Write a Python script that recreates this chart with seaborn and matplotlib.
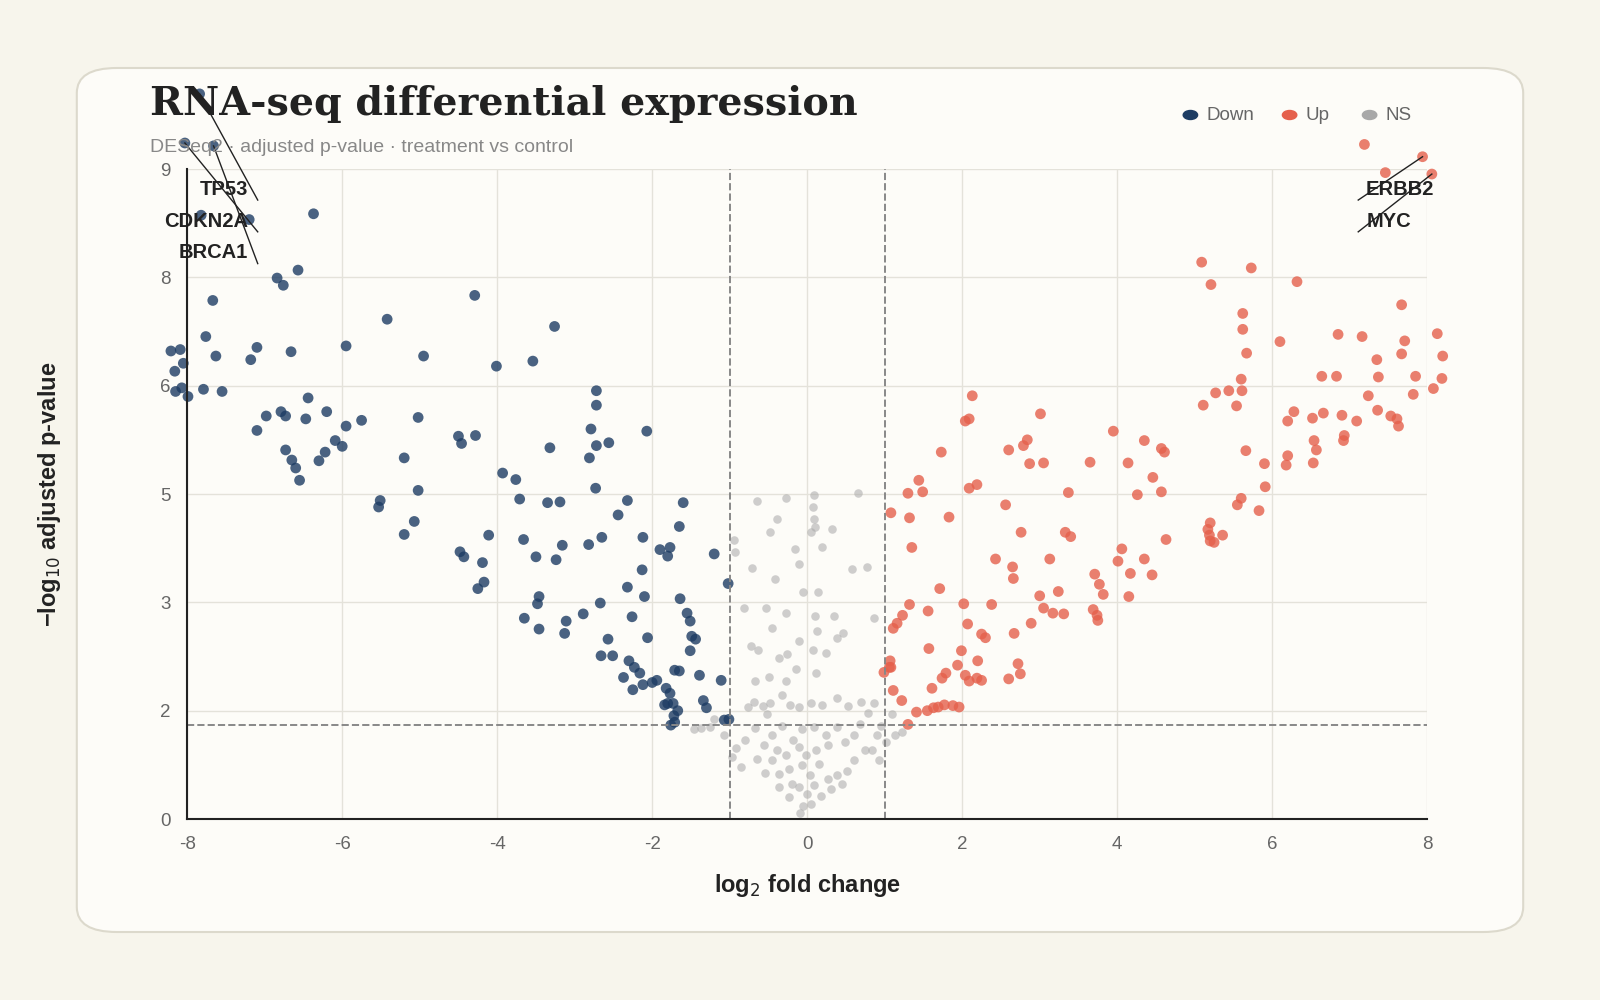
import numpy as np
import pandas as pd
import seaborn as sns
from matplotlib import pyplot as plt
from matplotlib.patches import FancyBboxPatch
from matplotlib.ticker import FuncFormatter

# Points (log2 fold change, -log10 adjusted p)
down_x = [-8.03, -7.84, -7.66, -7.2, -7.82, -6.37, -6.84, -6.76, -6.57, -7.67, -8.21, -8.09, -8.05, -7.76,
          -7.63, -8.16, -8.07, -8.15, -7.99, -7.79, -7.55, -7.1, -7.18, -6.66, -5.95, -5.42, -4.95, -4.29,
          -4.01, -3.54, -3.26, -6.79, -6.98, -6.73, -7.1, -6.44, -6.47, -6.2, -5.75, -5.95, -6.09, -6.0,
          -6.22, -6.3, -6.73, -6.65, -6.6, -6.55, -5.02, -5.2, -5.02, -5.07, -5.51, -5.53, -5.2, -4.5,
          -4.46, -4.28, -3.93, -3.76, -3.71, -4.11, -4.48, -4.43, -4.19, -4.17, -4.25, -3.66, -3.5, -3.32,
          -3.35, -3.19, -3.16, -3.24, -2.79, -2.72, -2.72, -2.72, -2.81, -2.56, -2.73, -2.07, -2.32, -2.44,
          -2.65, -2.82, -3.46, -3.48, -3.65, -3.46, -3.11, -3.13, -2.89, -2.67, -2.32, -2.26, -2.57, -2.66,
          -2.51, -2.06, -2.1, -2.13, -2.12, -1.9, -1.8, -1.77, -1.65, -1.6, -1.64, -1.55, -1.51, -1.49,
          -1.51, -1.44, -1.65, -1.71, -1.82, -1.77, -1.73, -1.72, -1.67, -1.94, -2.0, -2.23, -2.16, -2.3,
          -2.37, -2.25, -2.12, -1.84, -1.8, -1.76, -1.71, -1.34, -1.3, -1.11, -1.2, -1.02, -1.07, -1.01, -1.39]
down_y = [9.36, 10.04, 9.32, 8.3, 8.36, 8.38, 7.49, 7.39, 7.6, 7.18, 6.48, 6.5, 6.31, 6.68,
          6.41, 6.2, 5.97, 5.92, 5.85, 5.95, 5.92, 6.53, 6.36, 6.47, 6.55, 6.92, 6.41, 7.25,
          6.27, 6.34, 6.82, 5.64, 5.58, 5.58, 5.38, 5.83, 5.54, 5.64, 5.52, 5.44, 5.24, 5.16,
          5.08, 4.96, 5.11, 4.97, 4.86, 4.69, 5.56, 5.0, 4.55, 4.12, 4.41, 4.32, 3.94, 5.3,
          5.2, 5.31, 4.79, 4.7, 4.43, 3.93, 3.7, 3.63, 3.55, 3.28, 3.19, 3.87, 3.63, 5.14,
          4.38, 4.39, 3.79, 3.59, 5.4, 5.17, 5.93, 5.73, 5.0, 5.21, 4.58, 5.37, 4.41, 4.21,
          3.9, 3.8, 3.08, 2.98, 2.78, 2.63, 2.74, 2.57, 2.84, 2.99, 3.21, 2.8, 2.49, 2.26,
          2.26, 2.51, 3.08, 3.45, 3.9, 3.73, 3.64, 3.76, 4.05, 4.38, 3.05, 2.85, 2.74, 2.53,
          2.33, 2.49, 2.05, 2.06, 1.81, 1.74, 1.6, 1.43, 1.5, 1.92, 1.89, 2.1, 2.02, 2.19,
          1.96, 1.79, 1.86, 1.58, 1.6, 1.3, 1.34, 1.64, 1.54, 1.92, 3.67, 3.26, 1.37, 1.38, 1.99]

up_x = [7.19, 7.94, 7.46, 8.06, 5.09, 5.21, 5.73, 6.32, 5.62, 5.62, 5.67, 6.1, 6.85, 7.16, 7.67, 8.13,
        8.2, 7.71, 7.35, 7.67, 5.6, 5.61, 5.44, 5.27, 5.11, 5.54, 6.64, 6.83, 7.37, 7.85, 7.24, 7.82,
        8.08, 8.19, 6.28, 6.66, 6.9, 7.36, 7.53, 7.61, 7.63, 7.09, 6.2, 6.52, 6.54, 6.57, 6.53, 6.2,
        6.18, 6.93, 6.92, 5.66, 5.9, 5.91, 5.6, 5.55, 5.83, 5.2, 5.17, 5.19, 5.25, 5.36, 5.2,
        2.13, 2.04, 2.09, 3.01, 3.95, 4.35, 4.57, 4.61, 2.84, 2.79, 2.6, 2.87, 3.05, 3.65, 4.14, 4.46,
        4.26, 4.57, 3.37, 2.19, 1.73, 1.44, 1.49, 1.3, 1.08, 1.32, 1.35, 1.83, 2.09, 2.56, 2.76, 3.33,
        3.4, 3.13, 2.43, 2.65, 2.66, 4.63, 4.06, 4.01, 4.35, 4.45, 4.17, 3.71, 3.77, 3.82, 4.15, 3.24,
        3.0, 3.05, 3.17, 3.31, 3.69, 3.74, 3.75, 2.89, 2.67, 1.71, 1.32, 1.56, 2.02, 2.38, 2.07, 2.25,
        2.3, 1.16, 1.23, 1.11, 1.57, 1.99, 2.2, 2.72, 2.75, 2.6, 1.07, 1.06, 0.99, 1.08, 1.11, 1.22,
        1.61, 1.79, 1.74, 1.94, 2.04, 2.09, 2.19, 2.25, 1.41, 1.55, 1.63, 1.69, 1.77, 1.88, 1.96, 1.3]
up_y = [9.34, 9.17, 8.95, 8.93, 7.71, 7.4, 7.63, 7.44, 7.0, 6.78, 6.45, 6.61, 6.71, 6.68, 7.12, 6.72,
        6.41, 6.62, 6.36, 6.44, 6.09, 5.93, 5.93, 5.9, 5.73, 5.72, 6.13, 6.13, 6.12, 6.13, 5.86, 5.88,
        5.96, 6.1, 5.64, 5.62, 5.59, 5.66, 5.58, 5.54, 5.44, 5.51, 5.51, 5.55, 5.24, 5.11, 4.93, 5.03,
        4.9, 5.31, 5.24, 5.1, 4.92, 4.6, 4.44, 4.35, 4.27, 4.1, 4.01, 3.93, 3.83, 3.93, 3.85,
        5.86, 5.51, 5.54, 5.61, 5.37, 5.24, 5.13, 5.08, 5.25, 5.17, 5.11, 4.92, 4.93, 4.94, 4.93, 4.73,
        4.49, 4.53, 4.52, 4.63, 5.08, 4.69, 4.53, 4.51, 4.24, 4.17, 3.76, 4.18, 4.58, 4.35, 3.97, 3.97,
        3.91, 3.6, 3.6, 3.49, 3.33, 3.87, 3.74, 3.57, 3.6, 3.38, 3.4, 3.39, 3.25, 3.11, 3.08, 3.15,
        3.09, 2.92, 2.85, 2.84, 2.9, 2.82, 2.75, 2.71, 2.57, 3.19, 2.97, 2.88, 2.98, 2.97, 2.7, 2.56,
        2.51, 2.71, 2.82, 2.64, 2.36, 2.33, 2.19, 2.15, 2.01, 1.94, 2.19, 2.1, 2.03, 2.1, 1.78, 1.64,
        1.81, 2.02, 1.95, 2.13, 1.99, 1.91, 1.95, 1.92, 1.48, 1.5, 1.54, 1.55, 1.58, 1.57, 1.55, 1.31]

ns_x = [-0.65, -0.28, 0.09, 0.07, -0.39, 0.09, 0.05, 0.32, 0.65, -0.94, -0.93, -0.71, -0.48, 0.1, 0.58,
        -0.41, -0.16, -0.11, -0.06, 0.14, -0.82, -0.53, -0.28, 0.1, 0.35, 0.46, 0.39, 0.13, 0.86, -0.11,
        -0.73, -0.63, -0.36, -0.26, 0.07, 0.24, 0.11, -0.15, -0.28, -0.49, -0.68, -0.69, -0.77, -0.57,
        -0.48, -0.32, -0.22, -0.1, 0.05, 0.19, 0.38, 0.52, 0.7, 0.86, 0.78, 0.95, 0.9, 1.02, 0.84, 0.93,
        0.74, 0.61, 0.49, 0.38, 0.24, 0.09, -0.07, -0.18, -0.32, -0.45, -0.56, -0.68, -0.8, -0.92, -0.97,
        -0.85, -1.07, -1.26, -1.37, -1.46, -1.2, -0.65, -0.45, -0.54, -0.36, -0.24, -0.07, 0.03, 0.15,
        0.27, 0.39, 0.51, 0.61, -0.1, 0.0, 0.09, 0.18, -0.23, -0.05, -0.09, 0.05, -0.2, 0.31, 0.45, -0.36,
        1.13, 1.22, 1.09, 0.11, -0.02, -0.11, -0.28, 0.27, -0.39, -0.52, 0.68, -0.45, 0.19, 0.77]
ns_y = [4.41, 4.44, 4.49, 4.32, 4.15, 4.15, 3.98, 4.01, 4.52, 3.86, 3.7, 3.47, 3.98, 4.05, 3.46,
        3.32, 3.74, 3.53, 3.15, 3.14, 2.92, 2.92, 2.85, 2.81, 2.81, 2.58, 2.5, 2.61, 2.78, 2.46,
        2.39, 2.34, 2.23, 2.29, 2.34, 2.3, 2.02, 2.08, 1.91, 1.96, 1.91, 1.62, 1.55, 1.57,
        1.61, 1.72, 1.58, 1.55, 1.61, 1.58, 1.67, 1.57, 1.62, 1.61, 1.47, 1.29, 1.17, 1.06, 0.96, 0.82,
        0.95, 1.17, 1.06, 1.27, 1.17, 1.27, 1.24, 1.1, 1.29, 1.16, 1.03, 1.26, 1.09, 0.99, 0.86,
        0.72, 1.16, 1.27, 1.26, 1.24, 1.38, 0.83, 0.82, 0.64, 0.62, 0.69, 0.75, 0.61, 0.76,
        0.56, 0.61, 0.66, 0.82, 0.44, 0.35, 0.47, 0.32, 0.31, 0.18, 0.08, 0.21, 0.49, 0.42, 0.49, 0.44,
        1.17, 1.21, 1.45, 0.96, 0.89, 1.0, 0.89, 1.03, 0.96, 1.45, 1.31, 2.64, 3.77, 3.49]

# labelled genes: text, point, text position
genes = ['TP53', 'CDKN2A', 'BRCA1', 'ERBB2', 'MYC']
gene_x = [-7.84, -8.03, -7.66, 7.94, 8.06]
gene_y = [10.04, 9.36, 9.32, 9.17, 8.93]
label_x = [-7.52, -7.75, -7.66, 7.65, 7.5]
label_y = [8.72, 8.28, 7.84, 8.72, 8.28]

fc_cut = 1.0
p_cut = 1.3

df = pd.concat([
    pd.DataFrame({'lfc': down_x, 'p': down_y, 'grp': 'Down'}),
    pd.DataFrame({'lfc': up_x, 'p': up_y, 'grp': 'Up'}),
])
ns = pd.DataFrame({'lfc': ns_x, 'p': ns_y})

plt.rcParams['font.family'] = ['Liberation Sans', 'DejaVu Sans']
plt.rcParams['axes.unicode_minus'] = False

bg = '#f7f5ec'
fig = plt.figure(figsize=(16, 10), dpi=100, facecolor=bg)
card = FancyBboxPatch((0.048, 0.068), 0.904, 0.864, boxstyle='round,pad=0,rounding_size=0.025',
                      transform=fig.transFigure, fc='#fdfcf8', ec='#dcd9cc', lw=1.5, zorder=-10)
fig.patches.append(card)
ax = fig.add_axes([0.117, 0.181, 0.775, 0.65])
ax.set_facecolor('#fdfcf8')

sns.scatterplot(data=ns, x='lfc', y='p', color='#a8a8a8', alpha=0.55, s=38, linewidth=0, ax=ax, clip_on=False)
sns.scatterplot(data=df, x='lfc', y='p', hue='grp', palette={'Down': '#1d3c63', 'Up': '#e5604c'},
                alpha=0.8, s=60, linewidth=0, ax=ax, legend=False, clip_on=False)

ax.set_xlim(-8, 8)
ax.set_ylim(0, 9)
ax.set_xticks(np.arange(-8, 9, 2))
ax.set_yticks(np.arange(0, 9.1, 1.5))
ax.yaxis.set_major_formatter(FuncFormatter(lambda v, _: f'{int(np.floor(v + 0.5))}'))
ax.grid(color='#e4e2da', lw=1)
ax.set_axisbelow(True)
for s in ['top', 'right']:
    ax.spines[s].set_visible(False)
for s in ['left', 'bottom']:
    ax.spines[s].set_color('#222')
    ax.spines[s].set_linewidth(1.5)
ax.tick_params(length=0, labelsize=13.5, labelcolor='#666', pad=12)

for v in (-fc_cut, fc_cut):
    ax.axvline(v, color='#888', ls='--', lw=1.4)
ax.axhline(p_cut, color='#888', ls='--', lw=1.4)

for g, gx, gy, lx, ly in zip(genes, gene_x, gene_y, label_x, label_y):
    end_x = -7.09 if gx < 0 else 7.11
    ax.plot([end_x, gx], [ly - 0.15, gy], color='#222', lw=1, clip_on=False)
    ax.text(lx, ly, g, ha='center', va='center', fontsize=14.5, fontweight='bold', color='#222')

ax.set_xlabel('log$_2$ fold change', fontsize=17, fontweight='bold', color='#222', labelpad=14)
ax.set_ylabel('\u2212log$_{10}$ adjusted p-value', fontsize=17, fontweight='bold', color='#222', labelpad=70)

fig.text(0.094, 0.896, 'RNA-seq differential expression', fontsize=28.5, fontweight='bold',
         family='DejaVu Serif', color='#222', va='center')
fig.text(0.094, 0.853, 'DESeq2 \u00b7 adjusted p-value \u00b7 treatment vs control', fontsize=14,
         color='#888', va='center')

for lx, lab, c in [(0.744, 'Down', '#1d3c63'), (0.806, 'Up', '#e5604c'), (0.856, 'NS', '#a8a8a8')]:
    fig.patches.append(plt.Circle((lx, 0.885), 0.0045, transform=fig.transFigure, color=c, zorder=3))
    fig.text(lx + 0.01, 0.884, lab, fontsize=13.5, color='#666', va='center')

plt.savefig('out.png', dpi=100, facecolor=bg)
